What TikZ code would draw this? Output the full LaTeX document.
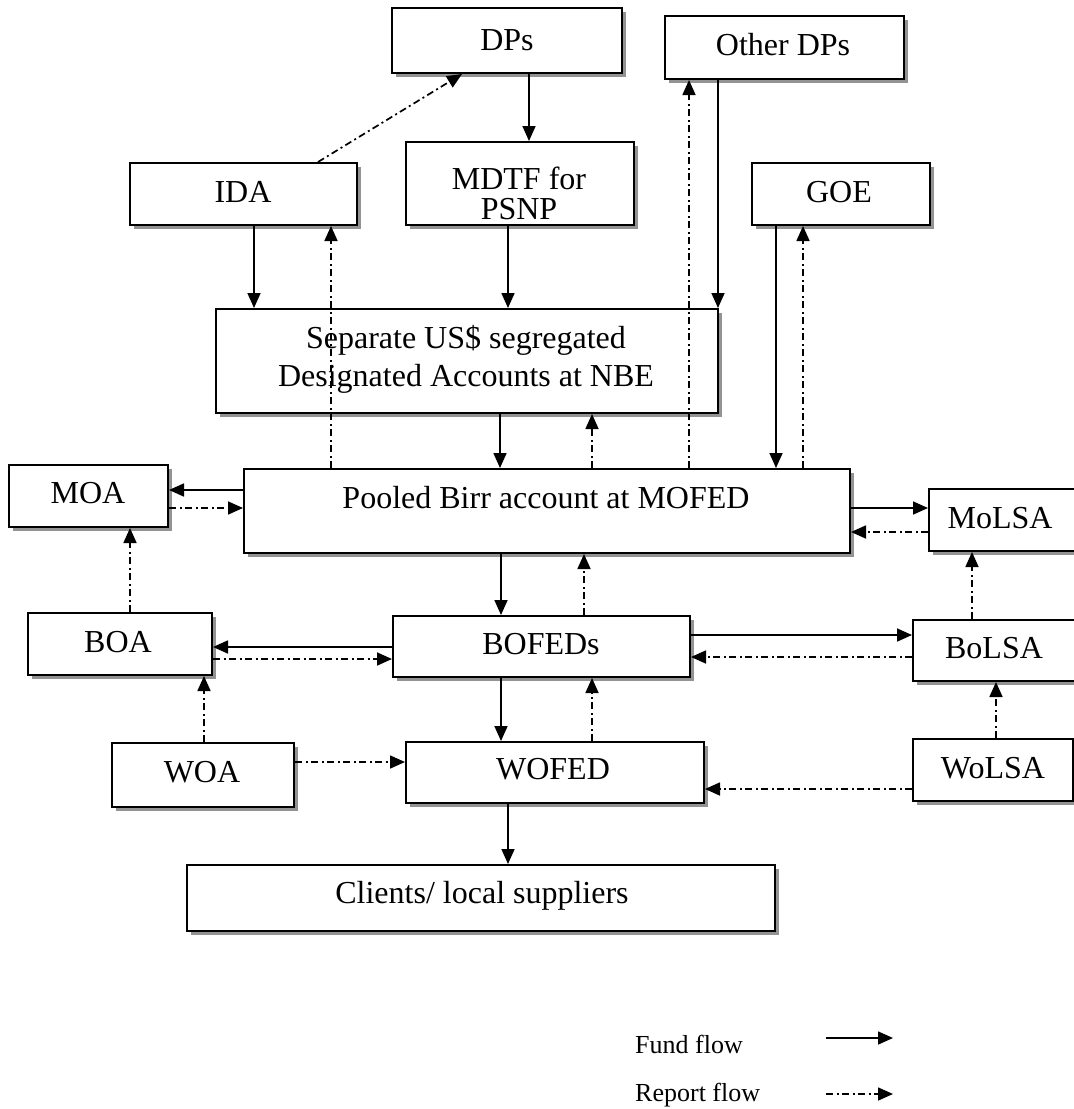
\documentclass[tikz,border=0pt]{standalone}
\usepackage{fontspec}
\setmainfont{Liberation Serif}
\usetikzlibrary{arrows.meta,shadows}
\begin{document}
\begin{tikzpicture}[x=1pt,y=-1pt,
  box/.style={draw=black, line width=2pt, fill=white, inner sep=0pt, rectangle,
     drop shadow={shadow xshift=4pt, shadow yshift=-4pt, fill=black!70, opacity=0.6}},
  lbl/.style={font=\fontsize{32}{38}\selectfont, inner sep=0pt, anchor=base, align=center},
  leg/.style={font=\fontsize{26}{30}\selectfont, inner sep=0pt, anchor=base west},
  fund/.style={line width=1.7pt, -{Triangle[length=15pt,width=13pt]}},
  rep/.style={line width=1.7pt, dash pattern=on 7pt off 3.5pt on 2pt off 3.5pt, -{Triangle[length=15pt,width=13pt]}},
]
\useasboundingbox[fill=white] (0,0) rectangle (1074,1109);

% boxes
\node[box, minimum width=230pt, minimum height=65pt] (dps) at (507,40.5) {};
\node[box, minimum width=239pt, minimum height=63pt] (odps) at (784.5,47.5) {};
\node[box, minimum width=227pt, minimum height=62pt] (ida) at (243.5,194) {};
\node[box, minimum width=228pt, minimum height=83pt] (mdtf) at (520,183.5) {};
\node[box, minimum width=178pt, minimum height=62pt] (goe) at (841,194) {};
\node[box, minimum width=502pt, minimum height=104pt] (sep) at (467,361) {};
\node[box, minimum width=606pt, minimum height=84pt] (pool) at (547,511) {};
\node[box, minimum width=159pt, minimum height=62pt] (moa) at (88.5,496) {};
\node[box, minimum width=151pt, minimum height=62pt] (molsa) at (1004.5,520) {};
\node[box, minimum width=184pt, minimum height=62pt] (boa) at (120,644) {};
\node[box, minimum width=297pt, minimum height=61pt] (bofed) at (541.5,646.5) {};
\node[box, minimum width=167pt, minimum height=61pt] (bolsa) at (996.5,650.5) {};
\node[box, minimum width=182pt, minimum height=64pt] (woa) at (203,775) {};
\node[box, minimum width=298pt, minimum height=61pt] (wofed) at (555,772.5) {};
\node[box, minimum width=160pt, minimum height=62pt] (wolsa) at (993,770) {};
\node[box, minimum width=588pt, minimum height=66pt] (cli) at (481,898) {};

% texts
\node[lbl] (t-dps) at (507,50) {DPs};
\node[lbl] (t-odps) at (783,55) {Other DPs};
\node[lbl] (t-ida) at (243,202) {IDA};
\node[lbl, font=\fontsize{32}{30}\selectfont] (t-mdtf) at (519,219) {MDTF for\\PSNP};
\node[lbl] (t-goe) at (839,202) {GOE};
\node[lbl] (t-sep) at (466,386) {Separate US\$ segregated\\Designated Accounts at NBE};
\node[lbl] (t-pool) at (546,508) {Pooled Birr account at MOFED};
\node[lbl] (t-moa) at (88,503) {MOA};
\node[lbl] (t-molsa) at (1000,528) {MoLSA};
\node[lbl] (t-boa) at (118,652) {BOA};
\node[lbl] (t-bofed) at (541,654) {BOFEDs};
\node[lbl] (t-bolsa) at (994,658) {BoLSA};
\node[lbl] (t-woa) at (202,782) {WOA};
\node[lbl] (t-wofed) at (553,779) {WOFED};
\node[lbl] (t-wolsa) at (993,778) {WoLSA};
\node[lbl] (t-cli) at (482,903) {Clients/ local suppliers};

% fund flows
\draw[fund] (dps.south -| 529,0) -- (mdtf.north -| 529,0);
\draw[fund] (ida.south -| 254,0) -- (sep.north -| 254,0);
\draw[fund] (mdtf.south -| 508,0) -- (sep.north -| 508,0);
\draw[fund] (odps.south -| 718,0) -- (sep.north -| 718,0);
\draw[fund] (goe.south -| 776,0) -- (pool.north -| 776,0);
\draw[fund] (sep.south -| 500,0) -- (pool.north -| 500,0);
\draw[fund] (pool.west |- 0,490) -- (moa.east |- 0,490);
\draw[fund] (pool.east |- 0,508) -- (molsa.west |- 0,508);
\draw[fund] (pool.south -| 501,0) -- (bofed.north -| 501,0);
\draw[fund] (bofed.west |- 0,647) -- (boa.east |- 0,647);
\draw[fund] (bofed.east |- 0,635) -- (bolsa.west |- 0,635);
\draw[fund] (bofed.south -| 501,0) -- (wofed.north -| 501,0);
\draw[fund] (wofed.south -| 508,0) -- (cli.north -| 508,0);

% report flows
\draw[rep] (ida.north -| 318,0) -- (dps.south -| 462,0);
\draw[rep] (pool.north -| 331,0) -- (ida.south -| 331,0);
\draw[rep] (pool.north -| 592,0) -- (sep.south -| 592,0);
\draw[rep] (pool.north -| 689,0) -- (odps.south -| 689,0);
\draw[rep] (pool.north -| 803,0) -- (goe.south -| 803,0);
\draw[rep] (moa.east |- 0,508) -- (pool.west |- 0,508);
\draw[rep] (molsa.west |- 0,532) -- (pool.east |- 0,532);
\draw[rep] (boa.north -| 130,0) -- (moa.south -| 130,0);
\draw[rep] (bofed.north -| 584,0) -- (pool.south -| 584,0);
\draw[rep] (boa.east |- 0,659) -- (bofed.west |- 0,659);
\draw[rep] (bolsa.north -| 972,0) -- (molsa.south -| 972,0);
\draw[rep] (bolsa.west |- 0,657) -- (bofed.east |- 0,657);
\draw[rep] (woa.north -| 204,0) -- (boa.south -| 204,0);
\draw[rep] (wofed.north -| 592,0) -- (bofed.south -| 592,0);
\draw[rep] (woa.east |- 0,762) -- (wofed.west |- 0,762);
\draw[rep] (wolsa.north -| 996,0) -- (bolsa.south -| 996,0);
\draw[rep] (wolsa.west |- 0,789) -- (wofed.east |- 0,789);

% legend
\node[leg] (lfund) at (635,1053) {Fund flow};
\node[leg] (lrep) at (635,1101) {Report flow};
\coordinate (lf1) at (826,1038);
\coordinate (lf2) at (893,1038);
\coordinate (lr1) at (826,1094);
\coordinate (lr2) at (893,1094);
\draw[fund] (lf1) -- (lf2);
\draw[rep] (lr1) -- (lr2);
\end{tikzpicture}
\end{document}
